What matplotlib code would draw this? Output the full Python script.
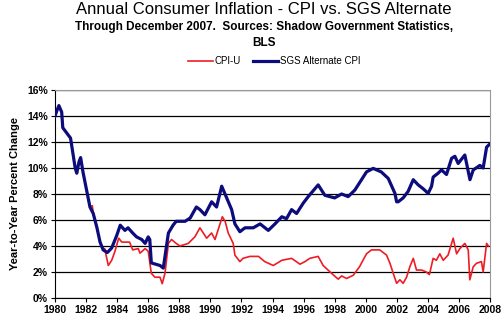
import matplotlib
matplotlib.use("Agg")
import matplotlib.pyplot as plt
from matplotlib.ticker import FuncFormatter

plt.rcParams['font.family'] = ['Liberation Sans', 'DejaVu Sans']

title = "Annual Consumer Inflation - CPI vs. SGS Alternate"
subtitle_lines = ["Through December 2007.  Sources: Shadow Government Statistics,", "BLS"]
ylabel = "Year-to-Year Percent Change"
series_names = ["CPI-U", "SGS Alternate CPI"]

sgs_t = [1980.0, 1980.15, 1980.25, 1980.43, 1980.5, 1980.75, 1981.0, 1981.3, 1981.4, 1981.55,
         1981.65, 1981.8, 1982.0, 1982.25, 1982.46, 1982.7, 1982.9, 1983.1, 1983.37, 1983.65,
         1983.97, 1984.2, 1984.5, 1984.7, 1985.0, 1985.25, 1985.58, 1985.8, 1986.0, 1986.1,
         1986.2, 1986.76, 1986.97, 1987.08, 1987.3, 1987.6, 1987.8, 1988.37, 1988.7, 1989.1,
         1989.33, 1989.65, 1990.08, 1990.4, 1990.73, 1991.05, 1991.37, 1991.58, 1991.9, 1992.23,
         1992.76, 1993.2, 1993.73, 1994.16, 1994.6, 1994.9, 1995.23, 1995.55, 1995.98, 1996.3,
         1996.94, 1997.37, 1998.0, 1998.45, 1998.87, 1999.3, 1999.73, 2000.05, 2000.48, 2001.0,
         2001.45, 2001.88, 2001.99, 2002.09, 2002.41, 2002.73, 2003.06, 2003.38, 2003.7, 2004.02,
         2004.24, 2004.34, 2004.66, 2004.88, 2005.2, 2005.53, 2005.74, 2005.95, 2006.38, 2006.71,
         2006.92, 2007.35, 2007.56, 2007.78, 2007.95]
sgs_v = [14.0, 14.5, 14.8, 14.3, 13.1, 12.7, 12.3, 10.0, 9.6, 10.5,
         10.8, 9.7, 8.5, 7.0, 6.5, 5.4, 4.3, 3.7, 3.5, 3.85,
         4.8, 5.6, 5.2, 5.4, 5.0, 4.7, 4.5, 4.2, 4.7, 4.5,
         2.7, 2.5, 2.3, 3.2, 5.0, 5.6, 5.9, 5.9, 6.15, 7.0,
         6.8, 6.4, 7.4, 7.0, 8.6, 7.7, 6.8, 5.7, 5.1, 5.4,
         5.4, 5.7, 5.2, 5.7, 6.25, 6.1, 6.8, 6.5, 7.3, 7.8,
         8.7, 7.9, 7.7, 8.0, 7.8, 8.3, 9.1, 9.7, 9.97, 9.7,
         9.2, 8.05, 7.4, 7.4, 7.7, 8.2, 9.1, 8.7, 8.4, 8.05,
         8.6, 9.3, 9.6, 9.85, 9.5, 10.75, 10.9, 10.35, 11.0, 9.1,
         9.85, 10.2, 10.0, 11.6, 11.8]

cpi_t = [1980.0, 1980.15, 1980.25, 1980.43, 1980.5, 1980.75, 1981.0, 1981.3, 1981.4, 1981.55,
         1981.65, 1981.8, 1982.0, 1982.25, 1982.4, 1982.46, 1982.7, 1982.9, 1983.1, 1983.2,
         1983.43, 1983.65, 1983.86, 1984.1, 1984.3, 1984.8, 1985.0, 1985.36, 1985.47, 1985.8,
         1986.0, 1986.2, 1986.43, 1986.76, 1986.9, 1987.08, 1987.3, 1987.5, 1987.8, 1988.04,
         1988.58, 1989.0, 1989.33, 1989.76, 1990.08, 1990.3, 1990.77, 1990.95, 1991.15, 1991.47,
         1991.58, 1991.9, 1992.1, 1992.55, 1993.1, 1993.5, 1994.05, 1994.6, 1995.23, 1995.77,
         1996.09, 1996.4, 1996.94, 1997.26, 1997.8, 1998.23, 1998.45, 1998.77, 1999.2, 1999.6,
         2000.05, 2000.37, 2000.9, 2001.34, 2001.56, 2001.77, 2001.99, 2002.2, 2002.41, 2002.63,
         2002.84, 2003.06, 2003.27, 2003.6, 2003.9, 2004.1, 2004.34, 2004.55, 2004.77, 2004.99,
         2005.3, 2005.63, 2005.85, 2006.06, 2006.38, 2006.6, 2006.7, 2006.92, 2007.13, 2007.45,
         2007.56, 2007.78, 2007.9]
cpi_v = [14.0, 14.5, 14.8, 14.3, 13.1, 12.7, 12.3, 10.0, 9.6, 10.5,
         10.8, 9.7, 8.5, 7.0, 7.1, 6.6, 5.4, 4.3, 3.7, 3.8,
         2.5, 2.9, 3.6, 4.6, 4.3, 4.3, 3.7, 3.8, 3.45, 3.8,
         3.6, 1.9, 1.6, 1.6, 1.1, 1.9, 4.2, 4.5, 4.2, 4.0,
         4.2, 4.7, 5.4, 4.6, 5.0, 4.5, 6.25, 5.9, 5.0, 4.2,
         3.3, 2.8, 3.05, 3.2, 3.2, 2.8, 2.5, 2.9, 3.05, 2.6,
         2.8, 3.05, 3.2, 2.5, 1.9, 1.45, 1.7, 1.5, 1.75, 2.4,
         3.4, 3.7, 3.7, 3.3, 2.67, 1.9, 1.13, 1.4, 1.13, 1.6,
         2.4, 3.05, 2.15, 2.15, 2.0, 1.8, 3.05, 2.9, 3.4, 2.9,
         3.3, 4.6, 3.4, 3.8, 4.2, 3.7, 1.4, 2.4, 2.67, 2.8,
         2.0, 4.2, 4.0]

x_ticks = list(range(1980, 2009, 2))
y_ticks = list(range(0, 17, 2))

fig = plt.figure(figsize=(5.03, 3.22), dpi=100)
ax = fig.add_axes([55/503, 24/322, 435/503, 208/322])

l1, = ax.plot(cpi_t, cpi_v, color="#ee1c24", lw=1.2, zorder=3)
l2, = ax.plot(sgs_t, sgs_v, color="#0c0c7c", lw=2.3, zorder=4)

ax.set_xlim(1980, 2008)
ax.set_ylim(0, 16)
ax.set_xticks(x_ticks)
ax.set_yticks(y_ticks)
ax.yaxis.set_major_formatter(FuncFormatter(lambda v, p: f"{int(v)}%"))
ax.grid(axis='y', color='black', lw=0.9, zorder=1)
for lab in ax.get_xticklabels() + ax.get_yticklabels():
    lab.set_fontweight('bold')
    lab.set_fontsize(7.5)
ax.tick_params(axis='both', direction='out', length=3, width=0.8, color='black', pad=2)
ax.spines['top'].set_color('#999999')
ax.spines['right'].set_color('#999999')
ax.spines['left'].set_color('black')
ax.spines['bottom'].set_color('black')

ax.set_ylabel(ylabel, fontsize=8, fontweight='bold', labelpad=5)

fig.text(0.525, 1 - 10/322, title, ha='center', va='center', fontsize=12)
fig.text(0.525, 1 - 27/322, subtitle_lines[0], ha='center', va='center', fontsize=8.5, fontweight='bold')
fig.text(0.525, 1 - 43/322, subtitle_lines[1], ha='center', va='center', fontsize=8.5, fontweight='bold')

fig.legend([l1, l2], series_names, loc='center', bbox_to_anchor=(0.545, 1 - 61/322),
           ncol=2, frameon=False, fontsize=7, handlelength=2.6, handletextpad=0.2,
           columnspacing=1.2)

fig.savefig("out.png", dpi=100)
